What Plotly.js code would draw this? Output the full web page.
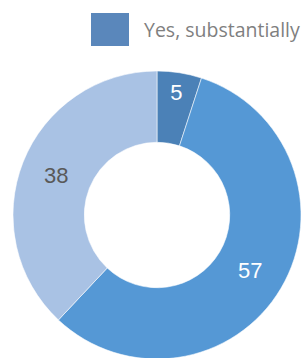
<!DOCTYPE html>
<html>
<head>
<meta charset="utf-8">
<script src="https://cdn.plot.ly/plotly-3.0.1.min.js"></script>
<style>
html,body{margin:0;padding:0;background:#fff;overflow:hidden;}
#chart{width:303px;height:360px;}
</style>
</head>
<body>
<div id="chart"></div>
<script>
const categories = ["Yes, substantially", "Yes, somewhat", "No"];
const values = [5, 57, 38];
const sliceColors = ["#4b81b7", "#5598d5", "#a9c2e4"];
const textColors = ["#ffffff", "#ffffff", "#595959"];
const legendLabel = categories[0];
const legendColor = "#5a87bb";

const trace = {
  type: "pie",
  labels: categories,
  values: values,
  hole: 0.505,
  sort: false,
  direction: "clockwise",
  rotation: 0,
  marker: { colors: sliceColors, line: { color: "rgba(255,255,255,0.7)", width: 0.8 } },
  textinfo: "value",
  textposition: "inside",
  insidetextorientation: "horizontal",
  textfont: { family: "Liberation Sans, Arial, sans-serif", size: 22, color: textColors },
  showlegend: false,
  hoverinfo: "label+value"
};

const W = 303, L = 13, T = 71, D = 288;
const px = x => (x - L) / D;
const py = y => 1 - (y - T) / D;

const layout = {
  width: 303,
  height: 360,
  margin: { l: L, r: W - L - D, t: T, b: 360 - T - D, pad: 0 },
  paper_bgcolor: "#ffffff",
  plot_bgcolor: "#ffffff",
  showlegend: false,
  shapes: [{
    type: "rect", xref: "paper", yref: "paper",
    x0: px(91), x1: px(129), y0: py(46), y1: py(13),
    fillcolor: legendColor, line: { width: 0 }
  }],
  annotations: [{
    xref: "paper", yref: "paper",
    x: px(142), y: py(30), xanchor: "left", yanchor: "middle",
    text: legendLabel, showarrow: false,
    font: { family: "Open Sans, Noto Sans, sans-serif", size: 19.5, color: "#7f7f7f" }
  }]
};

Plotly.newPlot("chart", [trace], layout, { displayModeBar: false, staticPlot: true });
</script>
</body>
</html>
